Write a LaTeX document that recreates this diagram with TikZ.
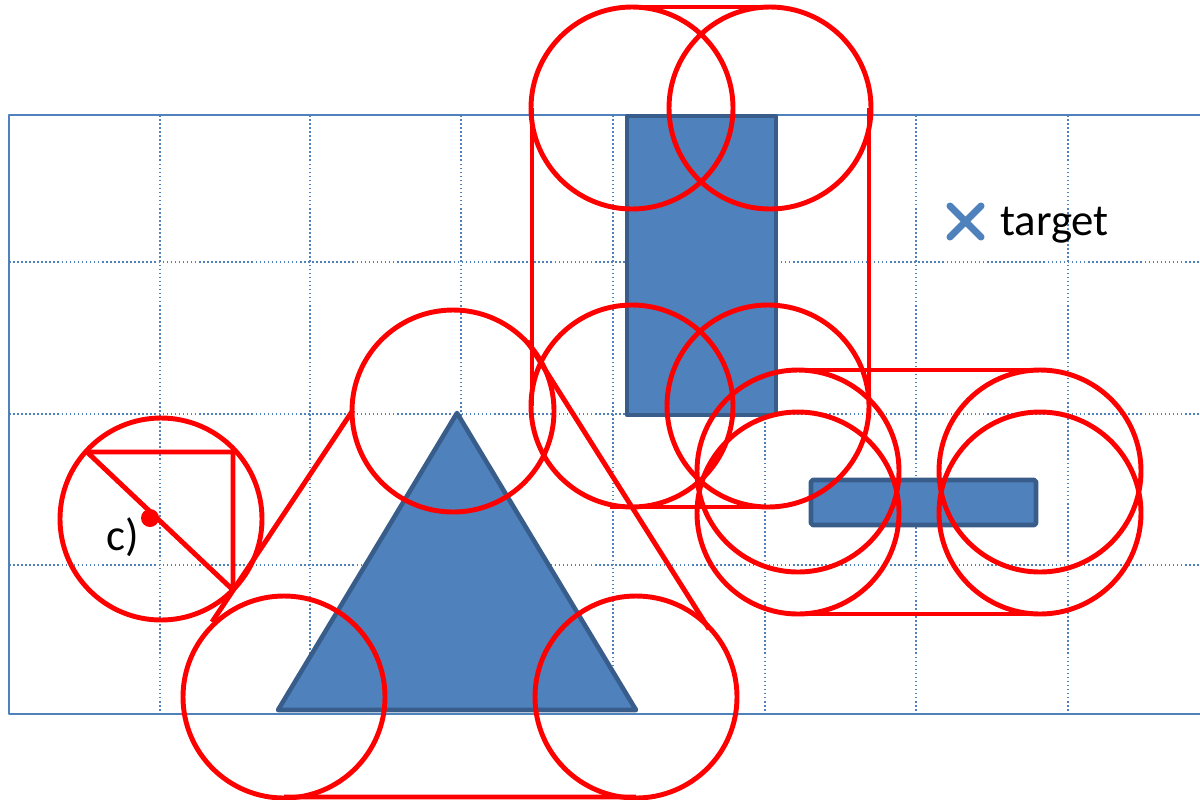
\documentclass[tikz,border=0pt]{standalone}
\usepackage{fontspec}
\setmainfont{Carlito}
\definecolor{shapefill}{HTML}{4F81BD}
\definecolor{shapeedge}{HTML}{385D8A}
\begin{document}
\begin{tikzpicture}[x=0.02cm,y=-0.02cm,line join=round,
	font=\fontsize{25.5}{30}\selectfont,
	outerframe/.style={draw=shapefill,line width=1.2pt},
	gridline/.style={shapefill,line width=0.9pt,dash pattern=on 0.9pt off 1.4pt},
	body/.style={fill=shapefill,draw=shapeedge,line width=2.6pt},
	hull/.style={red,line width=2.8pt}]
	\useasboundingbox (0,0) rectangle (1200,799);
	% grid
	\foreach \x in {160,310,461,613,765,916,1068} \draw[gridline] (\x,115)--(\x,714);
	\foreach \y in {262,414,565} \draw[gridline] (9,\y)--(1200,\y);
	\draw[outerframe] (1210,115)--(9,115)--(9,714)--(1210,714);
	% obstacles
	\draw[body] (457,413)--(278,710)--(636,710)--cycle;
	\draw[body] (627,116) rectangle (776,415);
	\draw[body,rounded corners=1pt] (811,480) rectangle (1036,525);
	% c)
	\draw[hull] (161,519) circle(101);
	\draw[hull] (87,452)--(233,452)--(233,590) (87,452)--(233,590);
	\fill[red] (150,518) circle(9);
	\node[anchor=base] at (123,550) {c)};
	% triangle
	\draw[hull] (453,411) circle(101) (284,697) circle(101) (636,697) circle(101);
	\draw[hull] (353,410)--(212,622) (527,341)--(709,629) (284,797)--(636,797);
	% tall box
	\draw[hull] (632,108) circle(101) (770,108) circle(101) (632,406) circle(101) (768,406) circle(101);
	\draw[hull] (632,7)--(770,7) (532,108)--(532,406) (869,108)--(869,406) (610,507)--(768,507);
	% flat box
	\draw[hull] (798,471) circle(101) (798,513) circle(101) (1040,471) circle(101) (1040,513) circle(101);
	\draw[hull] (798,370)--(1040,370) (798,614)--(1040,614);
	% target
	\draw[shapefill,line width=4pt,line cap=round] (950,206)--(981,237) (950,237)--(981,206);
	\node[anchor=base west] at (994,235) {target};
\end{tikzpicture}
\end{document}
